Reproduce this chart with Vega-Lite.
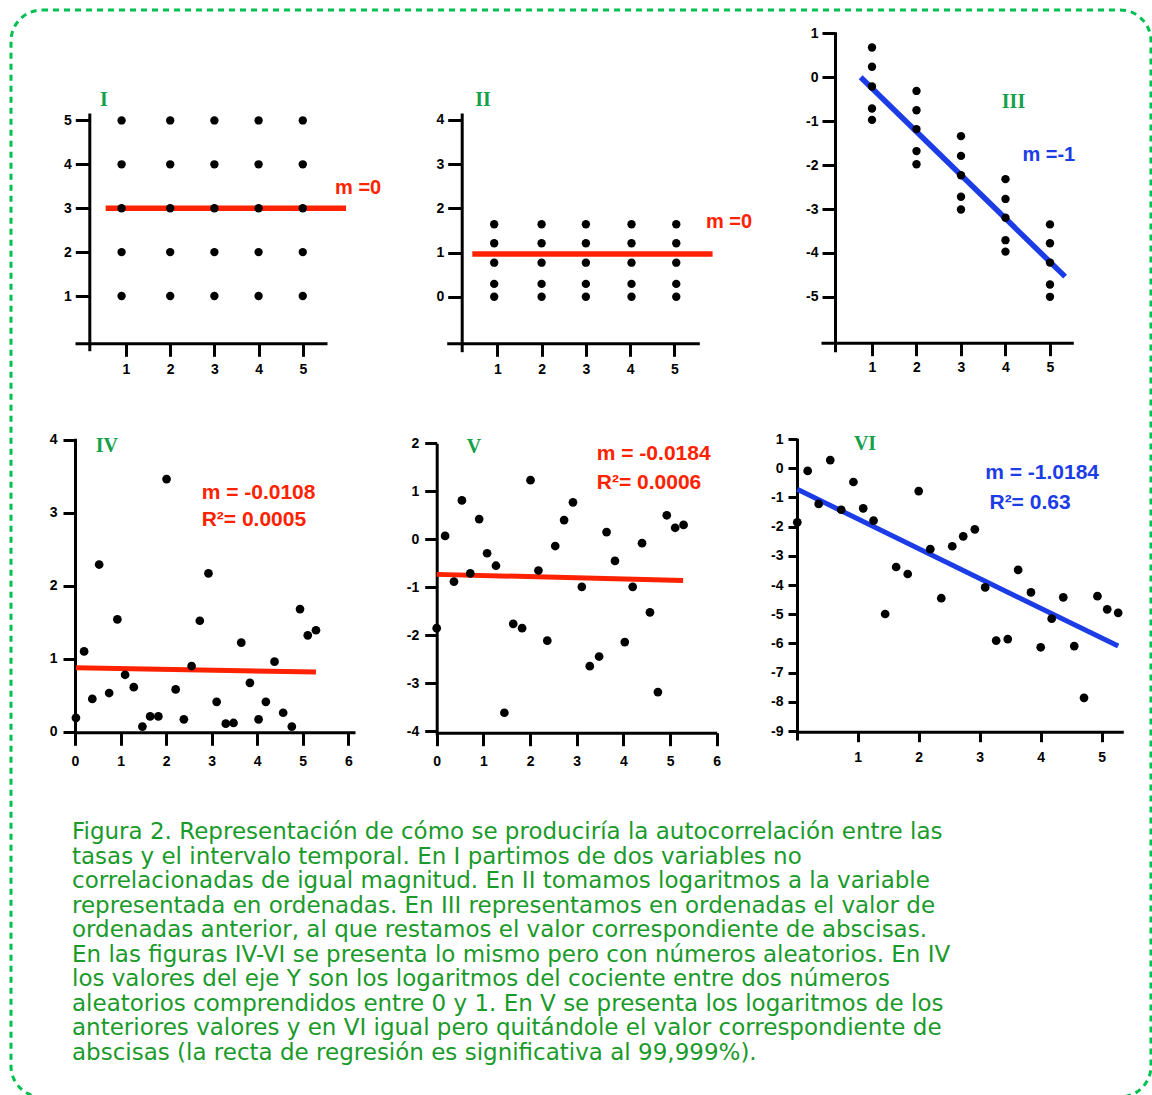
{
  "$schema": "https://vega.github.io/schema/vega-lite/v6.json",
  "width": 1152,
  "height": 1095,
  "autosize": "none",
  "padding": 0,
  "background": "white",
  "config": {
    "view": {"stroke": null},
    "axis": {"domainColor": "black", "domainWidth": 3, "tickColor": "black", "tickWidth": 3, "labelFont": "Liberation Sans", "labelFontWeight": "bold", "labelFontSize": 14, "labelColor": "black", "grid": false, "labelFlush": false, "labelOverlap": false, "labelExpr": "'' + datum.value"}
  },
  "resolve": {"scale": {"x": "independent", "y": "independent"}, "axis": {"x": "independent", "y": "independent"}},
  "layer": [
    {
      "data": {"values": [{"box": "frame"}]},
      "mark": {"type": "rect", "cornerRadius": 31, "fillOpacity": 0, "stroke": "#00c050", "strokeWidth": 3, "strokeDash": [6, 5]},
      "encoding": {
        "x": {"datum": 0, "type": "quantitative", "scale": {"domain": [0, 1], "range": [11, 1151]}, "axis": null},
        "x2": {"datum": 1},
        "y": {"datum": 0, "type": "quantitative", "scale": {"domain": [0, 1], "range": [10, 1097]}, "axis": null},
        "y2": {"datum": 1}
      }
    },
    {
      "encoding": {
        "x": {"field": "x", "type": "quantitative", "scale": {"domain": [-0.154, 5.548], "range": [75, 327], "nice": false, "zero": false}, "axis": {"orient": "bottom", "offset": -751.7, "values": [1, 2, 3, 4, 5], "title": null, "tickSize": 13, "labelPadding": 6}},
        "y": {"field": "y", "type": "quantitative", "scale": {"domain": [-0.246, 5.169], "range": [350.7, 113], "nice": false, "zero": false}, "axis": {"orient": "left", "offset": -89.3, "values": [1, 2, 3, 4, 5], "title": null, "tickSize": 14, "labelPadding": 4}}
      },
      "layer": [
        {"data": {"values": [{"x": 0.54, "y": 3}, {"x": 5.98, "y": 3}]}, "mark": {"type": "line", "color": "#ff2200", "strokeWidth": 5.5, "strokeCap": "butt"}},
        {"data": {"values": [
          {"x": 0.9, "y": 1}, {"x": 0.9, "y": 2}, {"x": 0.9, "y": 3}, {"x": 0.9, "y": 4}, {"x": 0.9, "y": 5},
          {"x": 2, "y": 1}, {"x": 2, "y": 2}, {"x": 2, "y": 3}, {"x": 2, "y": 4}, {"x": 2, "y": 5},
          {"x": 3, "y": 1}, {"x": 3, "y": 2}, {"x": 3, "y": 3}, {"x": 3, "y": 4}, {"x": 3, "y": 5},
          {"x": 4, "y": 1}, {"x": 4, "y": 2}, {"x": 4, "y": 3}, {"x": 4, "y": 4}, {"x": 4, "y": 5},
          {"x": 5, "y": 1}, {"x": 5, "y": 2}, {"x": 5, "y": 3}, {"x": 5, "y": 4}, {"x": 5, "y": 5}
        ]}, "mark": {"type": "circle", "color": "black", "opacity": 1, "size": 70}},
        {"data": {"values": [{"x": 5.73, "y": 3.46, "label": "m =0"}]}, "mark": {"type": "text", "align": "left", "baseline": "middle", "font": "Liberation Sans", "fontWeight": "bold", "fontSize": 20, "color": "#ff2200"}, "encoding": {"text": {"field": "label"}}},
        {"data": {"values": [{"x": 0.5, "y": 5.46, "label": "I"}]}, "mark": {"type": "text", "align": "center", "baseline": "middle", "font": "Liberation Serif", "fontWeight": "bold", "fontSize": 20, "color": "#17a04a"}, "encoding": {"text": {"field": "label"}}}
      ]
    },
    {
      "encoding": {
        "x": {"field": "x", "type": "quantitative", "scale": {"domain": [-0.142, 5.56], "range": [446.7, 699.3], "nice": false, "zero": false}, "axis": {"orient": "bottom", "offset": -751.7, "values": [1, 2, 3, 4, 5], "title": null, "tickSize": 13, "labelPadding": 6}},
        "y": {"field": "y", "type": "quantitative", "scale": {"domain": [-1.244, 4.156], "range": [351.7, 113], "nice": false, "zero": false}, "axis": {"orient": "left", "offset": -461.7, "values": [0, 1, 2, 3, 4], "title": null, "tickSize": 14, "labelPadding": 4}}
      },
      "layer": [
        {"data": {"values": [{"x": 0.436, "y": 0.966}, {"x": 5.86, "y": 0.966}]}, "mark": {"type": "line", "color": "#ff2200", "strokeWidth": 5.5, "strokeCap": "butt"}},
        {"data": {"values": [
          {"x": 0.93, "y": 0}, {"x": 0.93, "y": 0.29}, {"x": 0.93, "y": 0.77}, {"x": 0.93, "y": 1.21}, {"x": 0.93, "y": 1.64},
          {"x": 2, "y": 0}, {"x": 2, "y": 0.29}, {"x": 2, "y": 0.77}, {"x": 2, "y": 1.21}, {"x": 2, "y": 1.64},
          {"x": 3, "y": 0}, {"x": 3, "y": 0.29}, {"x": 3, "y": 0.77}, {"x": 3, "y": 1.21}, {"x": 3, "y": 1.64},
          {"x": 4.03, "y": 0}, {"x": 4.03, "y": 0.29}, {"x": 4.03, "y": 0.77}, {"x": 4.03, "y": 1.21}, {"x": 4.03, "y": 1.64},
          {"x": 5.04, "y": 0}, {"x": 5.04, "y": 0.29}, {"x": 5.04, "y": 0.77}, {"x": 5.04, "y": 1.21}, {"x": 5.04, "y": 1.64}
        ]}, "mark": {"type": "circle", "color": "black", "opacity": 1, "size": 70}},
        {"data": {"values": [{"x": 5.71, "y": 1.69, "label": "m =0"}]}, "mark": {"type": "text", "align": "left", "baseline": "middle", "font": "Liberation Sans", "fontWeight": "bold", "fontSize": 20, "color": "#ff2200"}, "encoding": {"text": {"field": "label"}}},
        {"data": {"values": [{"x": 0.68, "y": 4.45, "label": "II"}]}, "mark": {"type": "text", "align": "center", "baseline": "middle", "font": "Liberation Serif", "fontWeight": "bold", "fontSize": 20, "color": "#17a04a"}, "encoding": {"text": {"field": "label"}}}
      ]
    },
    {
      "encoding": {
        "x": {"field": "x", "type": "quantitative", "scale": {"domain": [-0.146, 5.524], "range": [821, 1073.3], "nice": false, "zero": false}, "axis": {"orient": "bottom", "offset": -752.3, "values": [1, 2, 3, 4, 5], "title": null, "tickSize": 13, "labelPadding": 5}},
        "y": {"field": "y", "type": "quantitative", "scale": {"domain": [-6.25, 1.039], "range": [351.7, 31.7], "nice": false, "zero": false}, "axis": {"orient": "left", "offset": -835, "values": [-5, -4, -3, -2, -1, 0, 1], "title": null, "tickSize": 13, "labelPadding": 4}}
      },
      "layer": [
        {"data": {"values": [{"x": 0.746, "y": 0}, {"x": 5.34, "y": -4.54}]}, "mark": {"type": "line", "color": "#1c3ce6", "strokeWidth": 5.5, "strokeCap": "butt"}},
        {"data": {"values": [
          {"x": 1, "y": 0.68}, {"x": 1, "y": 0.24}, {"x": 1, "y": -0.21}, {"x": 1, "y": -0.71}, {"x": 1, "y": -0.97},
          {"x": 2, "y": -0.31}, {"x": 2, "y": -0.75}, {"x": 2, "y": -1.18}, {"x": 2, "y": -1.68}, {"x": 2, "y": -1.98},
          {"x": 3, "y": -1.34}, {"x": 3, "y": -1.79}, {"x": 3, "y": -2.23}, {"x": 3, "y": -2.72}, {"x": 3, "y": -3.01},
          {"x": 4, "y": -2.32}, {"x": 4, "y": -2.77}, {"x": 4, "y": -3.2}, {"x": 4, "y": -3.71}, {"x": 4, "y": -3.97},
          {"x": 5, "y": -3.35}, {"x": 5, "y": -3.78}, {"x": 5, "y": -4.22}, {"x": 5, "y": -4.72}, {"x": 5, "y": -5.0}
        ]}, "mark": {"type": "circle", "color": "black", "opacity": 1, "size": 70}},
        {"data": {"values": [{"x": 4.38, "y": -1.77, "label": "m =-1"}]}, "mark": {"type": "text", "align": "left", "baseline": "middle", "font": "Liberation Sans", "fontWeight": "bold", "fontSize": 20, "color": "#1c3ce6"}, "encoding": {"text": {"field": "label"}}},
        {"data": {"values": [{"x": 4.18, "y": -0.556, "label": "III"}]}, "mark": {"type": "text", "align": "center", "baseline": "middle", "font": "Liberation Serif", "fontWeight": "bold", "fontSize": 20, "color": "#17a04a"}, "encoding": {"text": {"field": "label"}}}
      ]
    },
    {
      "encoding": {
        "x": {"field": "x", "type": "quantitative", "scale": {"domain": [0, 6.147], "range": [75, 355], "nice": false, "zero": false}, "axis": {"orient": "bottom", "offset": -362.7, "values": [0, 1, 2, 3, 4, 5, 6], "title": null, "tickSize": 13, "labelPadding": 9}},
        "y": {"field": "y", "type": "quantitative", "scale": {"domain": [-0.068, 4.019], "range": [736.7, 438.3], "nice": false, "zero": false}, "axis": {"orient": "left", "offset": -75, "values": [0, 1, 2, 3, 4], "title": null, "tickSize": 12, "labelPadding": 6}}
      },
      "layer": [
        {"data": {"values": [{"x": 0.02, "y": 0.875}, {"x": 5.29, "y": 0.818}]}, "mark": {"type": "line", "color": "#ff2200", "strokeWidth": 5, "strokeCap": "butt"}},
        {"data": {"values": [
          {"x": 0.02, "y": 0.19}, {"x": 0.2, "y": 1.1}, {"x": 0.38, "y": 0.45}, {"x": 0.53, "y": 2.29}, {"x": 0.75, "y": 0.53},
          {"x": 0.93, "y": 1.54}, {"x": 1.1, "y": 0.78}, {"x": 1.29, "y": 0.61}, {"x": 1.48, "y": 0.07}, {"x": 1.65, "y": 0.21},
          {"x": 1.83, "y": 0.21}, {"x": 2.01, "y": 3.46}, {"x": 2.21, "y": 0.58}, {"x": 2.39, "y": 0.17}, {"x": 2.56, "y": 0.9},
          {"x": 2.74, "y": 1.52}, {"x": 2.93, "y": 2.17}, {"x": 3.11, "y": 0.41}, {"x": 3.31, "y": 0.11}, {"x": 3.48, "y": 0.12},
          {"x": 3.65, "y": 1.22}, {"x": 3.84, "y": 0.67}, {"x": 4.03, "y": 0.17}, {"x": 4.19, "y": 0.41}, {"x": 4.38, "y": 0.96},
          {"x": 4.57, "y": 0.26}, {"x": 4.76, "y": 0.07}, {"x": 4.94, "y": 1.68}, {"x": 5.11, "y": 1.32}, {"x": 5.29, "y": 1.39}
        ]}, "mark": {"type": "circle", "color": "black", "opacity": 1, "size": 76}},
        {"data": {"values": [{"x": 2.78, "y": 3.27, "label": "m = -0.0108"}, {"x": 2.78, "y": 2.9, "label": "R²= 0.0005"}]}, "mark": {"type": "text", "align": "left", "baseline": "middle", "font": "Liberation Sans", "fontWeight": "bold", "fontSize": 21, "color": "#ff2200"}, "encoding": {"text": {"field": "label"}}},
        {"data": {"values": [{"x": 0.7, "y": 3.91, "label": "IV"}]}, "mark": {"type": "text", "align": "center", "baseline": "middle", "font": "Liberation Serif", "fontWeight": "bold", "fontSize": 20, "color": "#17a04a"}, "encoding": {"text": {"field": "label"}}}
      ]
    },
    {
      "encoding": {
        "x": {"field": "x", "type": "quantitative", "scale": {"domain": [0, 6.0], "range": [436.7, 716.7], "nice": false, "zero": false}, "axis": {"orient": "bottom", "offset": -362.3, "values": [0, 1, 2, 3, 4, 5, 6], "title": null, "tickSize": 13, "labelPadding": 9}},
        "y": {"field": "y", "type": "quantitative", "scale": {"domain": [-4.073, 1.998], "range": [735, 443.3], "nice": false, "zero": false}, "axis": {"orient": "left", "offset": -436.7, "values": [-4, -3, -2, -1, 0, 1, 2], "title": null, "tickSize": 12, "labelPadding": 6}}
      },
      "layer": [
        {"data": {"values": [{"x": 0, "y": -0.73}, {"x": 5.28, "y": -0.855}]}, "mark": {"type": "line", "color": "#ff2200", "strokeWidth": 5, "strokeCap": "butt"}},
        {"data": {"values": [
          {"x": 0, "y": -1.85}, {"x": 0.18, "y": 0.07}, {"x": 0.37, "y": -0.88}, {"x": 0.54, "y": 0.81}, {"x": 0.72, "y": -0.71},
          {"x": 0.91, "y": 0.42}, {"x": 1.08, "y": -0.29}, {"x": 1.27, "y": -0.55}, {"x": 1.45, "y": -3.61}, {"x": 1.64, "y": -1.76},
          {"x": 1.83, "y": -1.85}, {"x": 2.01, "y": 1.23}, {"x": 2.18, "y": -0.65}, {"x": 2.37, "y": -2.11}, {"x": 2.54, "y": -0.14},
          {"x": 2.73, "y": 0.4}, {"x": 2.92, "y": 0.77}, {"x": 3.11, "y": -0.99}, {"x": 3.28, "y": -2.64}, {"x": 3.48, "y": -2.44},
          {"x": 3.64, "y": 0.15}, {"x": 3.82, "y": -0.45}, {"x": 4.03, "y": -2.14}, {"x": 4.2, "y": -0.99}, {"x": 4.4, "y": -0.08},
          {"x": 4.57, "y": -1.52}, {"x": 4.74, "y": -3.18}, {"x": 4.93, "y": 0.5}, {"x": 5.11, "y": 0.24}, {"x": 5.29, "y": 0.3}
        ]}, "mark": {"type": "circle", "color": "black", "opacity": 1, "size": 76}},
        {"data": {"values": [{"x": 3.43, "y": 1.77, "label": "m = -0.0184"}, {"x": 3.43, "y": 1.17, "label": "R²= 0.0006"}]}, "mark": {"type": "text", "align": "left", "baseline": "middle", "font": "Liberation Sans", "fontWeight": "bold", "fontSize": 21, "color": "#ff2200"}, "encoding": {"text": {"field": "label"}}},
        {"data": {"values": [{"x": 0.8, "y": 1.93, "label": "V"}]}, "mark": {"type": "text", "align": "center", "baseline": "middle", "font": "Liberation Serif", "fontWeight": "bold", "fontSize": 20, "color": "#17a04a"}, "encoding": {"text": {"field": "label"}}}
      ]
    },
    {
      "encoding": {
        "x": {"field": "x", "type": "quantitative", "scale": {"domain": [0, 5.354], "range": [796.7, 1123.3], "nice": false, "zero": false}, "axis": {"orient": "bottom", "offset": -363.3, "values": [1, 2, 3, 4, 5], "title": null, "tickSize": 10, "labelPadding": 9}},
        "y": {"field": "y", "type": "quantitative", "scale": {"domain": [-9.305, 1.027], "range": [740, 438.3], "nice": false, "zero": false}, "axis": {"orient": "left", "offset": -797, "values": [-9, -8, -7, -6, -5, -4, -3, -2, -1, 0, 1], "title": null, "tickSize": 9, "labelPadding": 5}}
      },
      "layer": [
        {"data": {"values": [{"x": 0.01, "y": -0.72}, {"x": 5.27, "y": -6.09}]}, "mark": {"type": "line", "color": "#1c3ce6", "strokeWidth": 5, "strokeCap": "butt"}},
        {"data": {"values": [
          {"x": 0.01, "y": -1.85}, {"x": 0.18, "y": -0.09}, {"x": 0.36, "y": -1.22}, {"x": 0.55, "y": 0.28}, {"x": 0.73, "y": -1.42},
          {"x": 0.93, "y": -0.47}, {"x": 1.09, "y": -1.37}, {"x": 1.26, "y": -1.79}, {"x": 1.45, "y": -4.99}, {"x": 1.63, "y": -3.38},
          {"x": 1.82, "y": -3.62}, {"x": 2.0, "y": -0.78}, {"x": 2.19, "y": -2.77}, {"x": 2.37, "y": -4.45}, {"x": 2.55, "y": -2.67},
          {"x": 2.73, "y": -2.33}, {"x": 2.92, "y": -2.09}, {"x": 3.09, "y": -4.08}, {"x": 3.27, "y": -5.9}, {"x": 3.46, "y": -5.85},
          {"x": 3.63, "y": -3.48}, {"x": 3.84, "y": -4.25}, {"x": 4.0, "y": -6.13}, {"x": 4.18, "y": -5.15}, {"x": 4.37, "y": -4.42},
          {"x": 4.55, "y": -6.09}, {"x": 4.71, "y": -7.86}, {"x": 4.93, "y": -4.38}, {"x": 5.09, "y": -4.83}, {"x": 5.27, "y": -4.95}
        ]}, "mark": {"type": "circle", "color": "black", "opacity": 1, "size": 76}},
        {"data": {"values": [{"x": 3.09, "y": -0.17, "label": "m = -1.0184"}, {"x": 3.16, "y": -1.2, "label": "R²= 0.63"}]}, "mark": {"type": "text", "align": "left", "baseline": "middle", "font": "Liberation Sans", "fontWeight": "bold", "fontSize": 21, "color": "#1c3ce6"}, "encoding": {"text": {"field": "label"}}},
        {"data": {"values": [{"x": 1.12, "y": 0.83, "label": "VI"}]}, "mark": {"type": "text", "align": "center", "baseline": "middle", "font": "Liberation Serif", "fontWeight": "bold", "fontSize": 20, "color": "#17a04a"}, "encoding": {"text": {"field": "label"}}}
      ]
    },
    {
      "data": {"values": [
        {"line": 1, "text": "Figura 2. Representación de cómo se produciría la autocorrelación entre las"},
        {"line": 2, "text": "tasas y el intervalo temporal. En I partimos de dos variables no"},
        {"line": 3, "text": "correlacionadas de igual magnitud. En II tomamos logaritmos a la variable"},
        {"line": 4, "text": "representada en ordenadas. En III representamos en ordenadas el valor de"},
        {"line": 5, "text": "ordenadas anterior, al que restamos el valor correspondiente de abscisas."},
        {"line": 6, "text": "En las figuras IV-VI se presenta lo mismo pero con números aleatorios. En IV"},
        {"line": 7, "text": "los valores del eje Y son los logaritmos del cociente entre dos números"},
        {"line": 8, "text": "aleatorios comprendidos entre 0 y 1. En V se presenta los logaritmos de los"},
        {"line": 9, "text": "anteriores valores y en VI igual pero quitándole el valor correspondiente de"},
        {"line": 10, "text": "abscisas (la recta de regresión es significativa al 99,999%)."}
      ]},
      "mark": {"type": "text", "align": "left", "baseline": "middle", "font": "DejaVu Sans", "fontSize": 23, "color": "#1a9a2a"},
      "encoding": {
        "x": {"datum": 0, "type": "quantitative", "scale": {"domain": [0, 1], "range": [72, 1101]}, "axis": null},
        "y": {"field": "line", "type": "quantitative", "scale": {"domain": [1, 10], "range": [832, 1053], "nice": false, "zero": false}, "axis": null},
        "text": {"field": "text"}
      }
    }
  ]
}
